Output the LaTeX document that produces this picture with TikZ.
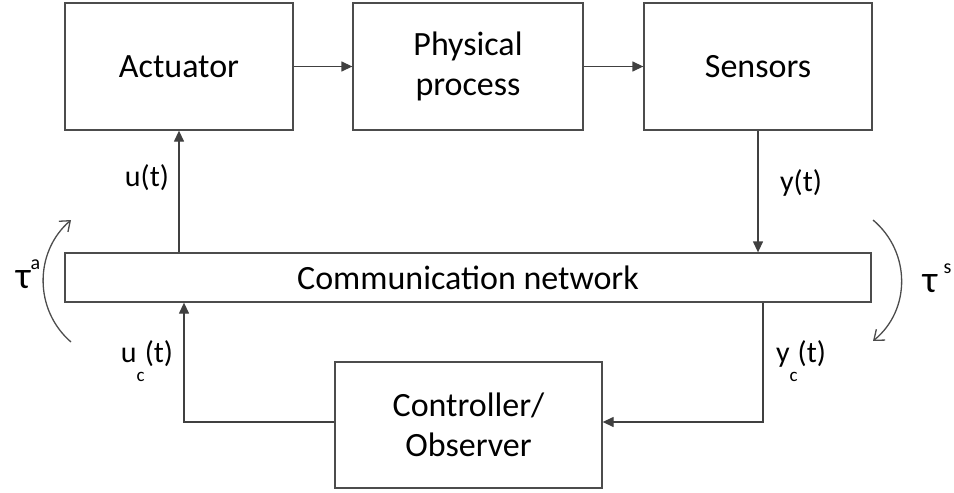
\documentclass[tikz,border=0pt]{standalone}
\usepackage{fontspec}
\setmainfont{Carlito}
\usetikzlibrary{arrows.meta}
\newcommand{\subc}{\raisebox{-0.65em}{\fontsize{19}{19}\selectfont c}}
\newcommand{\supx}[1]{\raisebox{0.5em}{\fontsize{20}{20}\selectfont #1}}
\begin{document}
\begin{tikzpicture}[x=1pt,y=-1pt,
  blk/.style={draw=black!70,line width=1.3pt,inner sep=0pt,font=\fontsize{34}{40}\selectfont,align=center},
  lbl/.style={font=\fontsize{30}{34}\selectfont,inner sep=0pt},
  conn/.style={draw=black!75,line width=1.3pt,-{Triangle[length=11pt,width=10pt]}},
  arc/.style={draw=black!70,line width=1.3pt,-{Straight Barb[length=9pt,width=14pt]}}]
\useasboundingbox (0,0) rectangle (954,493);
\node[blk,minimum width=228pt,minimum height=127pt] (act) at (179,66.5) {Actuator};
\node[blk,minimum width=230pt,minimum height=127pt] (phy) at (468,66.5) {Physical\\process};
\node[blk,minimum width=228pt,minimum height=127pt] (sen) at (758,66.5) {Sensors};
\node[blk,minimum width=806pt,minimum height=49pt] (net) at (468,277.5) {Communication network};
\node[blk,minimum width=267pt,minimum height=126pt] (ctl) at (468.5,425) {Controller/\\Observer};
\draw[conn] (act.east) -- (phy.west);
\draw[conn] (phy.east) -- (sen.west);
\draw[conn] (sen.south) -- (sen.south |- net.north);
\draw[conn] (act.south |- net.north) -- (act.south);
\coordinate (yc1) at (763,302);
\coordinate (yc2) at (763,422);
\draw[conn] (yc1 |- net.south) -- (yc2) -- (ctl.east |- yc2);
\coordinate (uc1) at (184,422);
\draw[conn] (ctl.west |- uc1) -- (uc1) -- (uc1 |- net.south);
\node[lbl] (ut) at (147,178) {u(t)};
\node[lbl] (yt) at (801,183) {y(t)};
\node[lbl,anchor=base] (uct) at (147,362) {u\subc(t)};
\node[lbl,anchor=base] (yct) at (801,362) {y\subc(t)};
\node[lbl,font=\fontsize{38}{42}\selectfont] (ta) at (28,274) {τ\supx{a}};
\node[lbl,font=\fontsize{38}{42}\selectfont] (ts) at (937,278) {τ\,\supx{s}};
\coordinate (la1) at (71,342);
\coordinate (la2) at (71,220);
\draw[arc] (la1) .. controls (34,310) and (34,252) .. (la2);
\coordinate (ra1) at (873,220);
\coordinate (ra2) at (873,341);
\draw[arc] (ra1) .. controls (911,252) and (911,310) .. (ra2);
\end{tikzpicture}
\end{document}
